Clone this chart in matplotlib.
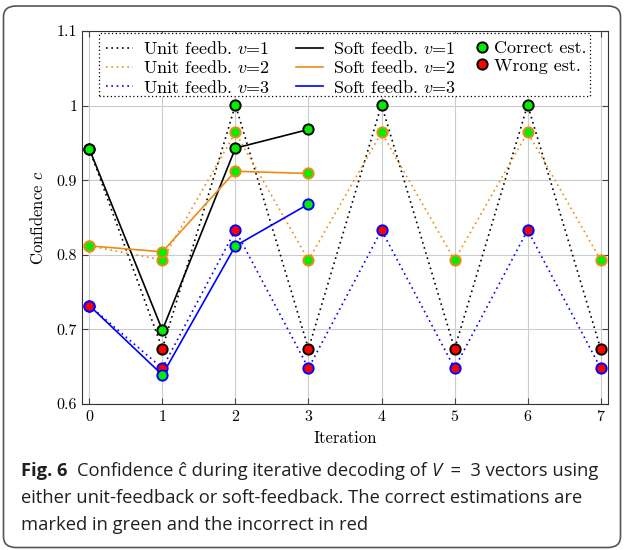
import numpy as np
import matplotlib
matplotlib.use('Agg')
import matplotlib.pyplot as plt
from matplotlib.lines import Line2D
from matplotlib.patches import FancyBboxPatch, Rectangle

plt.rcParams['mathtext.fontset'] = 'cm'
plt.rcParams['font.family'] = 'cmr10'
plt.rcParams['axes.formatter.use_mathtext'] = True

# confidence values per iteration
iters_unit = [0, 1, 2, 3, 4, 5, 6, 7]
iters_soft = [0, 1, 2, 3]

unit_v1 = [0.942, 0.674, 1.001, 0.674, 1.001, 0.674, 1.001, 0.674]
unit_v2 = [0.812, 0.793, 0.964, 0.793, 0.964, 0.793, 0.964, 0.793]
unit_v3 = [0.732, 0.648, 0.833, 0.648, 0.833, 0.648, 0.833, 0.648]
soft_v1 = [0.942, 0.699, 0.943, 0.968]
soft_v2 = [0.812, 0.804, 0.912, 0.909]
soft_v3 = [0.732, 0.639, 0.812, 0.868]

# 1 = correct estimate, 0 = wrong estimate
unit_v1_ok = [1, 0, 1, 0, 1, 0, 1, 0]
unit_v2_ok = [1, 1, 1, 1, 1, 1, 1, 1]
unit_v3_ok = [0, 0, 0, 0, 0, 0, 0, 0]
soft_v1_ok = [1, 1, 1, 1]
soft_v2_ok = [1, 1, 1, 1]
soft_v3_ok = [0, 1, 1, 1]

c_black = 'black'
c_orange = '#ec8c14'
c_blue = '#0000ff'
c_ok = '#00ee00'
c_bad = '#ff0000'
ms, mew = 7.4, 1.4

W, H = 624, 550
fig = plt.figure(figsize=(W / 100, H / 100), dpi=100)
ax = fig.add_axes([82 / W, 1 - 404 / H, 526 / W, 373 / H])

def fx(px):
    return px / W

def fy(py):
    return 1 - py / H

dot = (0, (1, 2.2))
series = [
    (iters_unit, unit_v1, unit_v1_ok, c_black, dot),
    (iters_unit, unit_v2, unit_v2_ok, c_orange, dot),
    (iters_unit, unit_v3, unit_v3_ok, c_blue, dot),
    (iters_soft, soft_v1, soft_v1_ok, c_black, '-'),
    (iters_soft, soft_v2, soft_v2_ok, c_orange, '-'),
    (iters_soft, soft_v3, soft_v3_ok, c_blue, '-'),
]
for xs, ys, ok, col, ls in series:
    ax.plot(xs, ys, color=col, ls=ls, lw=1.2, zorder=2)
for xs, ys, ok, col, ls in series:
    ok = np.array(ok, dtype=bool)
    xs = np.array(xs); ys = np.array(ys)
    ax.plot(xs[ok], ys[ok], ls='none', marker='o', ms=ms, mfc=c_ok,
            mec=col, mew=mew, zorder=3)
    ax.plot(xs[~ok], ys[~ok], ls='none', marker='o', ms=ms, mfc=c_bad,
            mec=col, mew=mew, zorder=3)

ax.set_xlim(-0.1, 7.1)
ax.set_ylim(0.6, 1.1)
ax.set_xticks(range(8))
ax.set_yticks([0.6, 0.7, 0.8, 0.9, 1.0, 1.1])
ax.set_yticklabels(['0.6', '0.7', '0.8', '0.9', '1', '1.1'])
ax.grid(True, color='#cccccc', lw=0.8, zorder=0)
ax.set_axisbelow(True)
ax.tick_params(direction='in', top=True, right=True, labelsize=11.5,
               length=4, color='#444444')
for s in ax.spines.values():
    s.set_color('#333333')
ax.set_xlabel('Iteration', fontsize=12, labelpad=5)
ax.set_ylabel('Confidence $c$', fontsize=12, labelpad=8)

# legend: dotted box with line entries and marker entries side by side
fig.patches.append(Rectangle((fx(99), fy(96)), 491 / W, 63 / H,
                             transform=fig.transFigure, facecolor='white',
                             edgecolor='black', lw=0.9, ls=(0, (1, 2)), zorder=1))

line_handles = [
    Line2D([], [], color=c_black, ls=dot, lw=1.2),
    Line2D([], [], color=c_orange, ls=dot, lw=1.2),
    Line2D([], [], color=c_blue, ls=dot, lw=1.2),
    Line2D([], [], color=c_black, lw=1.2),
    Line2D([], [], color=c_orange, lw=1.2),
    Line2D([], [], color=c_blue, lw=1.2),
]
line_labels = ['Unit feedb. $v$=1', 'Unit feedb. $v$=2', 'Unit feedb. $v$=3',
               'Soft feedb. $v$=1', 'Soft feedb. $v$=2', 'Soft feedb. $v$=3']
leg_kw = dict(loc='upper left', bbox_transform=fig.transFigure, fontsize=13,
              frameon=False, borderaxespad=0, borderpad=0.4, labelspacing=0.12)
leg1 = fig.legend(line_handles, line_labels, ncol=2,
                  bbox_to_anchor=(fx(99), fy(33)), handlelength=1.5,
                  handletextpad=0.55, columnspacing=1.4, **leg_kw)

mark_handles = [
    Line2D([], [], ls='none', marker='o', ms=ms, mfc=c_ok, mec='black', mew=mew),
    Line2D([], [], ls='none', marker='o', ms=ms, mfc=c_bad, mec='black', mew=mew),
]
mark_labels = ['Correct est.', 'Wrong est.']
leg2 = fig.legend(mark_handles, mark_labels, ncol=1,
                  bbox_to_anchor=(fx(468), fy(33)), handlelength=0.8,
                  handletextpad=0.25, **leg_kw)
for leg in (leg1, leg2):
    leg.set_zorder(2)

# caption box
fig.patches.append(FancyBboxPatch((fx(3.5), fy(547.5)), 617 / W, 541.5 / H,
                                  boxstyle='round,pad=0,rounding_size=0.02',
                                  transform=fig.transFigure, fill=False,
                                  edgecolor='#555555', lw=1.2))

cap = dict(family='Open Sans', fontsize=13.2, color='#231f20')
t0 = fig.text(fx(21), fy(476.5), 'Fig. 6', fontweight='bold', va='baseline', **cap)
t1 = ax.annotate('Confidence ĉ during iterative decoding of ', xy=(1, 0),
                 xycoords=t0, xytext=(6.5, 0), textcoords='offset points',
                 va='bottom', annotation_clip=False, **cap)
t2 = ax.annotate('V', xy=(1, 0), xycoords=t1, va='bottom', style='italic',
                 annotation_clip=False, **cap)
t3 = ax.annotate('  =  3 vectors using', xy=(1, 0), xycoords=t2, va='bottom',
                 annotation_clip=False, **cap)
fig.text(fx(21), fy(503), 'either unit-feedback or soft-feedback. The correct estimations are',
         va='baseline', **cap)
fig.text(fx(21), fy(530), 'marked in green and the incorrect in red',
         va='baseline', **cap)

fig.savefig('out.png', dpi=100)
